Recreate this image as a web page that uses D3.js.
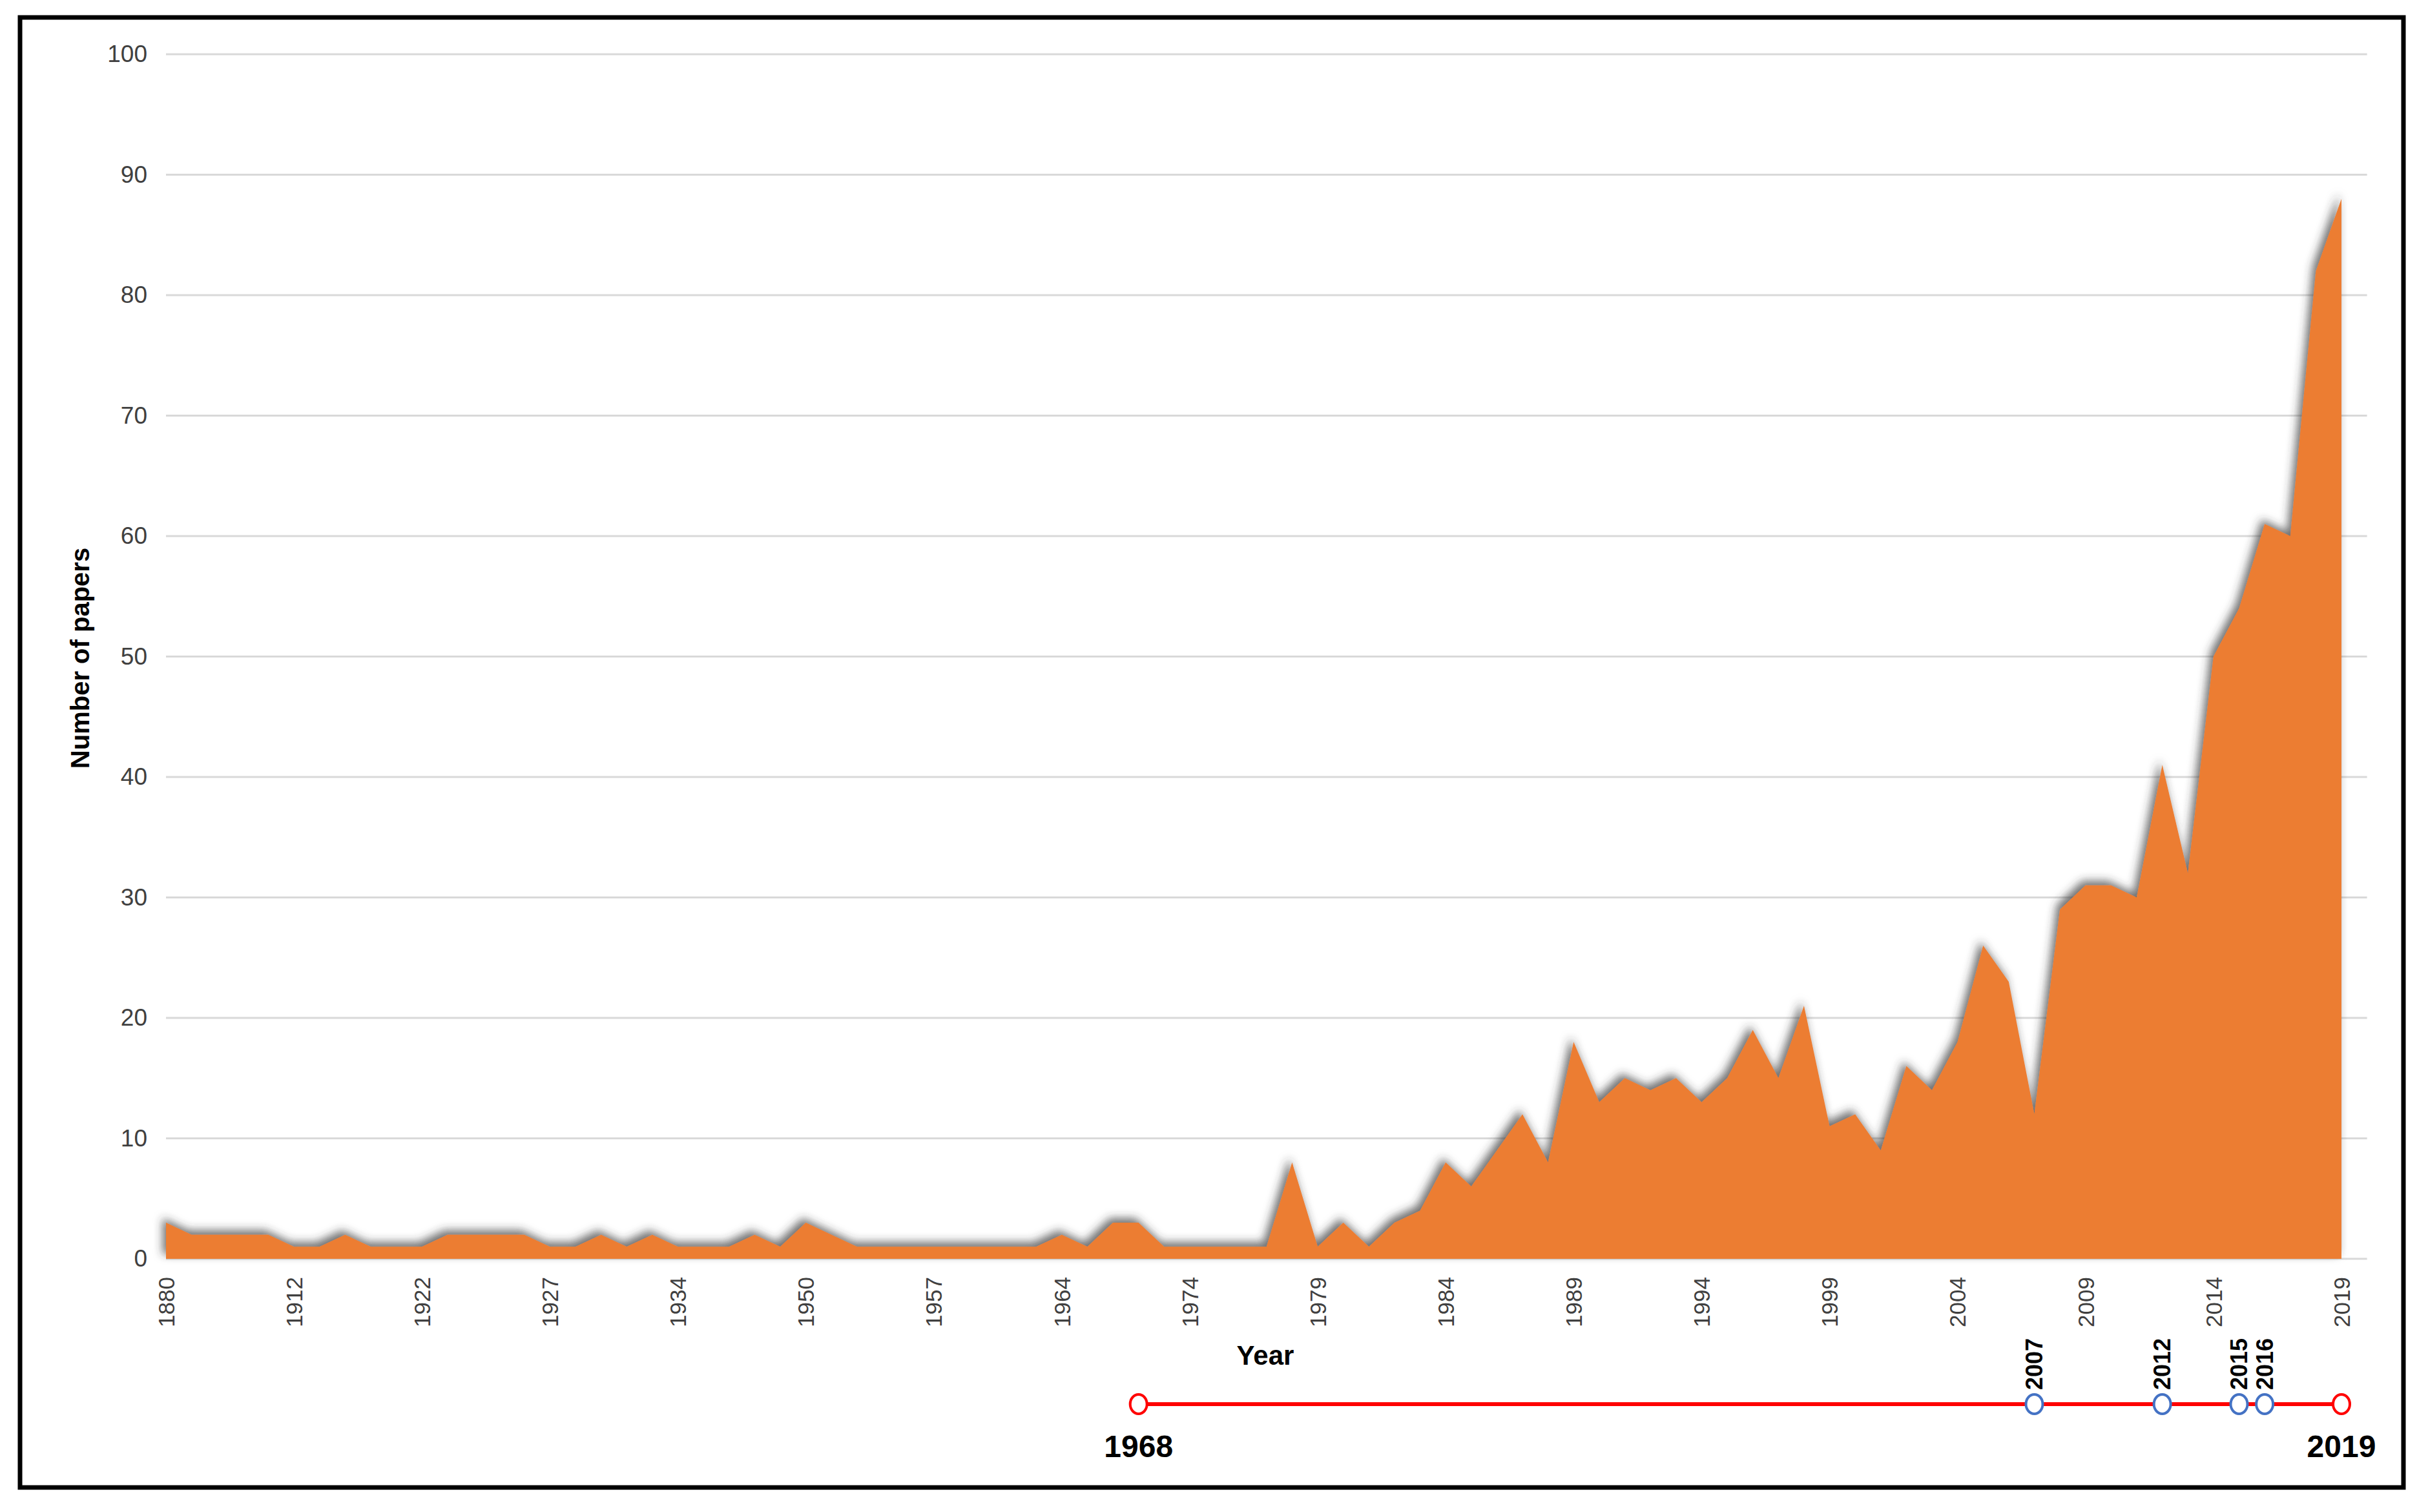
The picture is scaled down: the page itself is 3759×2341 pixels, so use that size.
<!DOCTYPE html>
<html>
<head>
<meta charset="utf-8">
<script src="https://cdn.jsdelivr.net/npm/d3@7"></script>
<style>
  body { margin: 0; background: #fff; }
  text { font-family: "Liberation Sans", Arial, sans-serif; }
</style>
</head>
<body>
<div id="chart"></div>
<script>
// categories on the x axis (only every 5th one is labelled)
var years = ["1880","1888","1895","1900","1907","1912","1914","1916","1918","1920",
  "1922","1923","1924","1925","1926","1927","1928","1930","1931","1932",
  "1934","1936","1938","1940","1947","1950","1951","1952","1953","1955",
  "1957","1958","1959","1960","1962","1964","1965","1966","1968","1970",
  "1974","1975","1976","1977","1978","1979","1980","1981","1982","1983",
  "1984","1985","1986","1987","1988","1989","1990","1991","1992","1993",
  "1994","1995","1996","1997","1998","1999","2000","2001","2002","2003",
  "2004","2005","2006","2007","2008","2009","2010","2011","2012","2013",
  "2014","2015","2016","2017","2018","2019"];

var papers = [3,2,2,2,2, 1,1,2,1,1,
  1,2,2,2,2, 1,1,2,1,2,
  1,1,1,2,1, 3,2,1,1,1,
  1,1,1,1,1, 2,1,3,3,1,
  1,1,1,1,8, 1,3,1,3,4,
  8,6,9,12,8, 18,13,15,14,15,
  13,15,19,15,21, 11,12,9,16,14,
  18,26,23,12,29, 31,31,30,41,32,
  50,54,61,60,82, 88];

var yTicks = [0,10,20,30,40,50,60,70,80,90,100];

// timeline under the axis
var spanYears = ["1968","2019"];
var milestones = ["2007","2012","2015","2016"];

var width = 3759,
    height = 2341,
    plot = {left: 257, right: 3625, top: 84, bottom: 1949};

var svg = d3.select("#chart").append("svg")
    .attr("width", width)
    .attr("height", height);

var defs = svg.append("defs");
defs.append("filter")
    .attr("id", "shadow")
    .attr("x", "-5%").attr("y", "-10%")
    .attr("width", "110%").attr("height", "120%")
  .append("feDropShadow")
    .attr("dx", -5)
    .attr("dy", -7)
    .attr("stdDeviation", 7)
    .attr("flood-color", "#333")
    .attr("flood-opacity", 0.7);

var xScale = d3.scalePoint()
    .domain(years)
    .range([plot.left, plot.right]);

var yScale = d3.scaleLinear()
    .domain([0, 100])
    .range([plot.bottom, plot.top]);

var step = xScale.step();

// frame
svg.append("rect")
    .attr("x", 31).attr("y", 27)
    .attr("width", 3690).attr("height", 2276)
    .attr("fill", "none")
    .attr("stroke", "#000")
    .attr("stroke-width", 7);

// gridlines
svg.append("g")
  .selectAll("line")
    .data(yTicks)
  .enter().append("line")
    .attr("x1", plot.left)
    .attr("x2", plot.right + step)
    .attr("y1", d => yScale(d))
    .attr("y2", d => yScale(d))
    .attr("stroke", "#d9d9d9")
    .attr("stroke-width", 3);

// y axis labels
var yAxis = d3.axisLeft(yScale).tickValues(yTicks).tickSize(0).tickPadding(0);
svg.append("g")
    .attr("transform", "translate(228,0)")
    .call(yAxis)
    .call(g => g.select(".domain").remove())
    .selectAll("text")
    .attr("font-size", 37)
    .attr("fill", "#404040")
    .attr("font-family", "Liberation Sans, Arial, sans-serif");

// area
var area = d3.area()
    .x((d, i) => xScale(years[i]))
    .y0(yScale(0))
    .y1(d => yScale(d));

svg.append("path")
    .datum(papers)
    .attr("d", area)
    .attr("fill", "#ec7d31")
    .attr("filter", "url(#shadow)");

// x axis labels, every 5th category
var xAxis = d3.axisBottom(xScale)
    .tickValues(years.filter((d, i) => i % 5 == 0))
    .tickSize(0);

svg.append("g")
    .attr("transform", "translate(0," + (plot.bottom + 28) + ")")
    .call(xAxis)
    .call(g => g.select(".domain").remove())
    .selectAll("text")
    .attr("font-size", 35)
    .attr("fill", "#404040")
    .attr("font-family", "Liberation Sans, Arial, sans-serif")
    .attr("text-anchor", "end")
    .attr("transform", "rotate(-90)")
    .attr("x", 0)
    .attr("y", 0)
    .attr("dy", "0.35em");

// axis titles
svg.append("text")
    .attr("x", 1959)
    .attr("y", 2113)
    .attr("text-anchor", "middle")
    .attr("font-size", 42)
    .attr("font-weight", "bold")
    .text("Year");

svg.append("text")
    .attr("transform", "translate(138,1019) rotate(-90)")
    .attr("text-anchor", "middle")
    .attr("font-size", 40)
    .attr("font-weight", "bold")
    .text("Number of papers");

// timeline
var lineY = 2174;
var tl = svg.append("g");

tl.append("line")
    .attr("x1", xScale(spanYears[0]))
    .attr("x2", xScale(spanYears[1]))
    .attr("y1", lineY)
    .attr("y2", lineY)
    .attr("stroke", "#ff0000")
    .attr("stroke-width", 6);

tl.selectAll(".ms")
    .data(milestones)
  .enter().append("ellipse")
    .attr("class", "ms")
    .attr("cx", d => xScale(d))
    .attr("cy", lineY)
    .attr("rx", 13).attr("ry", 15)
    .attr("fill", "#fff")
    .attr("stroke", "#4472c4")
    .attr("stroke-width", 4);

tl.selectAll(".mslabel")
    .data(milestones)
  .enter().append("text")
    .attr("class", "mslabel")
    .attr("transform", d => "translate(" + xScale(d) + "," + (lineY - 22) + ") rotate(-90)")
    .attr("dy", "0.35em")
    .attr("font-size", 36)
    .attr("font-weight", "bold")
    .text(d => d);

tl.selectAll(".end")
    .data(spanYears)
  .enter().append("ellipse")
    .attr("class", "end")
    .attr("cx", d => xScale(d))
    .attr("cy", lineY)
    .attr("rx", 13).attr("ry", 15)
    .attr("fill", "#fff")
    .attr("stroke", "#ff0000")
    .attr("stroke-width", 4);

tl.selectAll(".endlabel")
    .data(spanYears)
  .enter().append("text")
    .attr("class", "endlabel")
    .attr("x", d => xScale(d))
    .attr("y", lineY + 82)
    .attr("text-anchor", "middle")
    .attr("font-size", 48)
    .attr("font-weight", "bold")
    .text(d => d);
</script>
</body>
</html>
